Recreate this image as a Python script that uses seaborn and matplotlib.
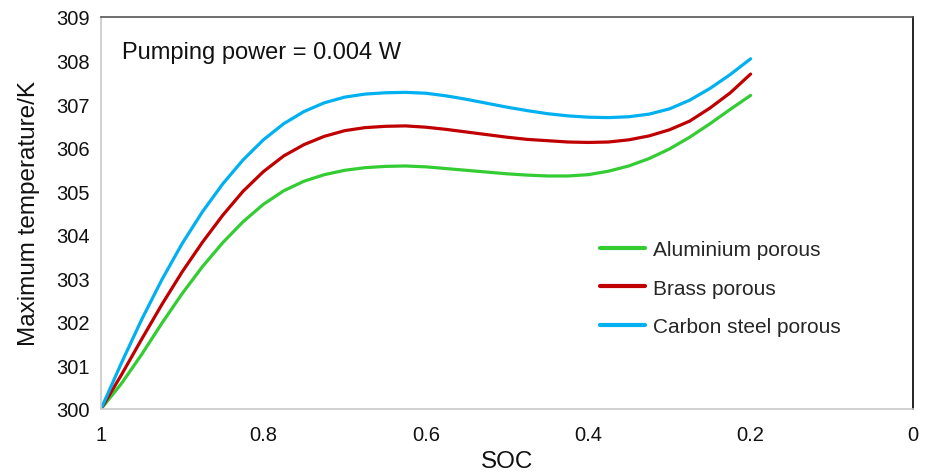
import numpy as np
import pandas as pd
import matplotlib
matplotlib.use("Agg")
import matplotlib.pyplot as plt
import seaborn as sns

soc = [1.00, 0.975, 0.95, 0.925, 0.90, 0.875, 0.85, 0.825, 0.80, 0.775, 0.75, 0.725,
       0.70, 0.675, 0.65, 0.625, 0.60, 0.575, 0.55, 0.525, 0.50, 0.475, 0.45, 0.425,
       0.40, 0.375, 0.35, 0.325, 0.30, 0.275, 0.25, 0.225, 0.20]

aluminium = [300.00, 300.58, 301.25, 301.97, 302.65, 303.27, 303.82, 304.30, 304.70, 305.01,
             305.23, 305.38, 305.48, 305.54, 305.57, 305.58, 305.56, 305.52, 305.48, 305.44,
             305.40, 305.37, 305.35, 305.35, 305.38, 305.46, 305.58, 305.75, 305.97, 306.24,
             306.55, 306.88, 307.20]
brass = [300.00, 300.78, 301.60, 302.40, 303.15, 303.83, 304.45, 305.00, 305.45, 305.81,
         306.07, 306.26, 306.39, 306.46, 306.49, 306.50, 306.47, 306.42, 306.36, 306.30,
         306.24, 306.19, 306.16, 306.13, 306.12, 306.13, 306.18, 306.27, 306.41, 306.61,
         306.91, 307.26, 307.69]
carbon = [300.00, 301.05, 302.05, 302.97, 303.80, 304.53, 305.17, 305.72, 306.18, 306.55,
          306.83, 307.03, 307.16, 307.23, 307.26, 307.27, 307.25, 307.19, 307.11, 307.02,
          306.93, 306.85, 306.78, 306.73, 306.70, 306.69, 306.71, 306.77, 306.89, 307.09,
          307.36, 307.68, 308.04]

series_names = ["Aluminium porous", "Brass porous", "Carbon steel porous"]
colors = ["#33cc33", "#c00000", "#00b0f0"]
x_ticks = [1, 0.8, 0.6, 0.4, 0.2, 0]
x_ticklabels = ["1", "0.8", "0.6", "0.4", "0.2", "0"]
y_ticks = list(range(300, 310))

df = pd.concat([
    pd.DataFrame({"SOC": soc, "T": vals, "Material": name})
    for name, vals in zip(series_names, [aluminium, brass, carbon])
])

sns.set_theme(style="white")
plt.rcParams["font.family"] = ["Liberation Sans", "DejaVu Sans"]

fig = plt.figure(figsize=(9.3, 4.77), dpi=100)
ax = fig.add_axes([101/930, 1 - 410/477, (913 - 101)/930, (410 - 18)/477])

sns.lineplot(data=df, x="SOC", y="T", hue="Material", palette=colors,
             hue_order=series_names, linewidth=2.3, ax=ax, sort=False,
             estimator=None)
for line in ax.get_lines():
    line.set_solid_capstyle("round")
    line.set_solid_joinstyle("round")

ax.set_xlim(1, 0)
ax.set_ylim(300, 309)
ax.set_xticks(x_ticks)
ax.set_xticklabels(x_ticklabels)
ax.set_yticks(y_ticks)
ax.tick_params(axis="both", length=0, labelsize=14.5, colors="#111111")
ax.tick_params(axis="x", pad=11.5)
ax.tick_params(axis="y", pad=8)

ax.set_xlabel("SOC", fontsize=17.5, labelpad=4, color="#111111")
ax.set_ylabel("Maximum temperature/K", fontsize=17.5, labelpad=12, color="#111111")

ax.spines["left"].set_color("#c8c8c8")
ax.spines["bottom"].set_color("#c8c8c8")
ax.spines["top"].set_color("#555555")
ax.spines["right"].set_color("#000000")
for s in ax.spines.values():
    s.set_linewidth(1.2)

ax.text(0.974, 308.20, "Pumping power = 0.004 W", fontsize=17, ha="left", va="center",
        color="#111111")

leg = ax.legend(loc="upper left", bbox_to_anchor=(0.591, 0.478), frameon=False,
                fontsize=15, handlelength=2.16, handletextpad=0.4, labelspacing=0.93,
                title=None)
for h in leg.get_lines():
    h.set_linewidth(3)

fig.savefig("out.png", dpi=100)
